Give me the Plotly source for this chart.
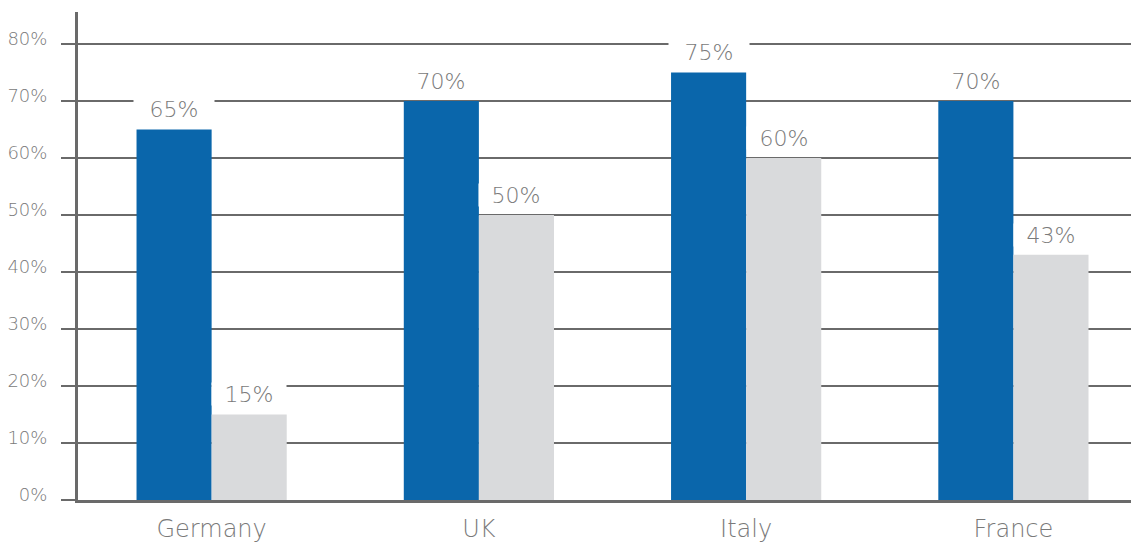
import plotly.graph_objects as go

countries = ["Germany", "UK", "Italy", "France"]
series_a = [65, 70, 75, 70]
series_b = [15, 50, 60, 43]
y_ticks = [0, 10, 20, 30, 40, 50, 60, 70, 80]
y_tick_labels = [f"{v}%" for v in y_ticks]

BLUE = "#0a66ab"
LIGHT = "#d9dadc"
GRID = "#6a6a6a"
TEXT = "#7a7a7a"
FONT = "DejaVu Sans"
WEIGHT = 200
BARGAP = 0.438

fig = go.Figure()
fig.add_bar(x=countries, y=series_a, marker_color=BLUE, marker_line_width=0, name="A")
fig.add_bar(x=countries, y=series_b, marker_color=LIGHT, marker_line_width=0, name="B")

# value labels on white boxes sitting above each bar
half = (1 - BARGAP) / 4
for i, (a, b) in enumerate(zip(series_a, series_b)):
    for off, v, w in ((-half, a, 80), (half, b, 74)):
        fig.add_annotation(
            x=i + off, y=v, xref="x", yref="y",
            text=f"{v}%", showarrow=False,
            yanchor="middle", yshift=20,
            bgcolor="white", width=w, height=22, borderpad=0,
            font=dict(family=FONT, size=22, color=TEXT, weight=WEIGHT),
        )

fig.update_layout(
    width=1131, height=542,
    margin=dict(l=78, r=0, t=12, b=42),
    paper_bgcolor="white", plot_bgcolor="white",
    barmode="group", bargap=BARGAP, bargroupgap=0,
    showlegend=False,
    font=dict(family=FONT, color=TEXT, weight=WEIGHT),
)
fig.update_xaxes(
    range=[-0.5, 3.44], showline=True, linewidth=3, linecolor=GRID,
    showgrid=False, ticks="",
    tickfont=dict(size=24, color=TEXT, family=FONT, weight=WEIGHT),
    ticklabelstandoff=5,
)
fig.update_yaxes(
    range=[0, 85.6], tickvals=y_ticks, ticktext=y_tick_labels,
    showline=True, linewidth=3, linecolor=GRID,
    showgrid=True, gridcolor=GRID, gridwidth=1.5, zeroline=False,
    ticks="outside", ticklen=14, tickwidth=1.5, tickcolor=GRID,
    tickfont=dict(size=18, color=TEXT, family=FONT, weight=WEIGHT),
    ticklabelstandoff=10, ticklabelshift=-5,
)

fig.write_html("out.html")
